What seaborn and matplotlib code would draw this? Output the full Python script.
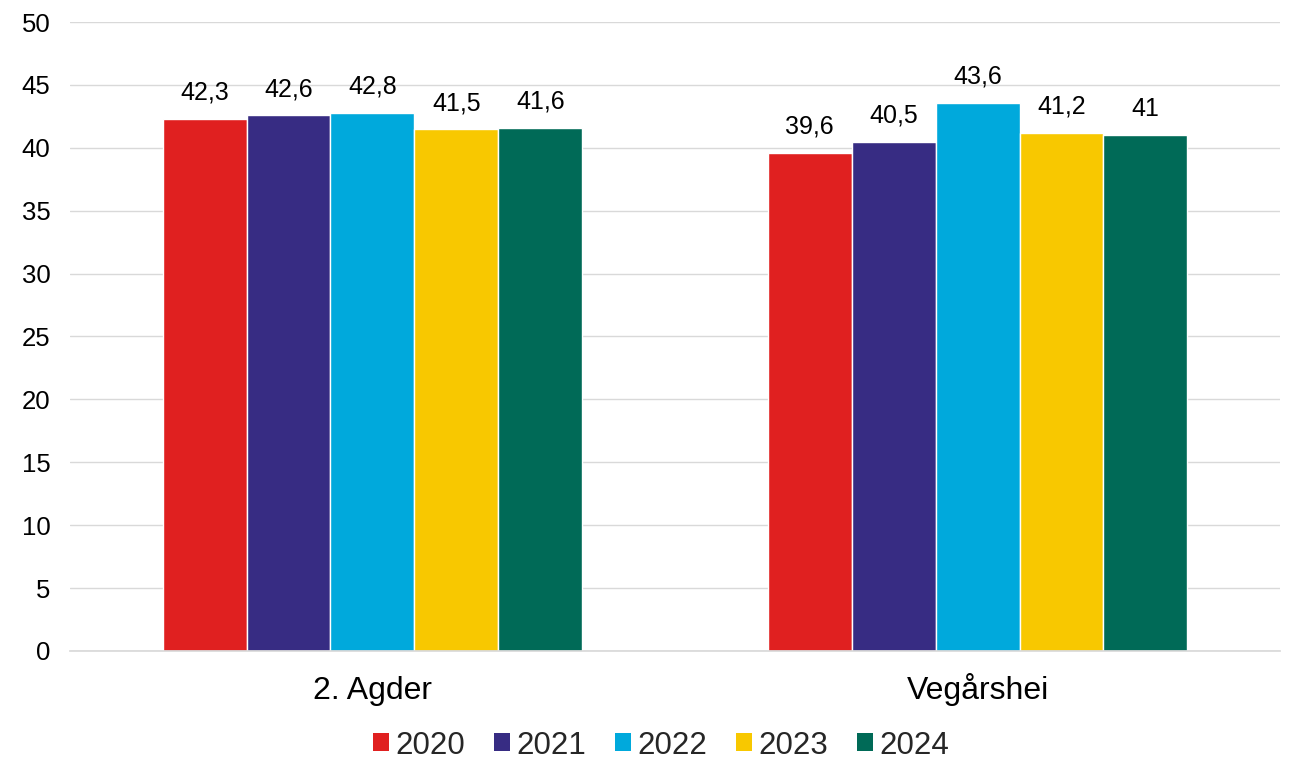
import matplotlib
matplotlib.use("Agg")
import matplotlib.pyplot as plt
import seaborn as sns
import pandas as pd
from matplotlib.patches import Patch

categories = ["2. Agder", "Vegårshei"]
years = ["2020", "2021", "2022", "2023", "2024"]
values = {
    "2020": [42.3, 39.6],
    "2021": [42.6, 40.5],
    "2022": [42.8, 43.6],
    "2023": [41.5, 41.2],
    "2024": [41.6, 41.0],
}
colors = ["#E02020", "#372C83", "#00A9DC", "#F8C800", "#006A57"]
yticks = [0, 5, 10, 15, 20, 25, 30, 35, 40, 45, 50]

rows = []
for y in years:
    for c, v in zip(categories, values[y]):
        rows.append({"Kategori": c, "År": y, "Verdi": v})
df = pd.DataFrame(rows)

sns.set_theme(style="white")
plt.rcParams["font.family"] = ["Liberation Sans", "DejaVu Sans"]

fig = plt.figure(figsize=(12.91, 7.62), dpi=100)
ax = fig.add_axes([0.0542, 0.1457, 0.9373, 0.8254])

sns.barplot(data=df, x="Kategori", y="Verdi", hue="År", hue_order=years,
            palette=colors, saturation=1, width=0.694, gap=0,
            edgecolor="white", linewidth=1, ax=ax, legend=False,
            errorbar=None)

def fmt(v):
    if abs(v - round(v)) < 1e-9:
        return str(int(round(v)))
    return f"{v:.1f}".replace(".", ",")

for cont in ax.containers:
    ax.bar_label(cont, labels=[fmt(b.get_height()) for b in cont],
                 padding=10, fontsize=18, color="#000000")

ax.set_ylim(0, 50)
ax.set_xlim(-0.5, 1.5)
ax.set_yticks(yticks)
ax.set_yticklabels([str(t) for t in yticks], fontsize=18.5, color="#000000")
ax.tick_params(axis="x", labelsize=23, labelcolor="#000000", pad=34.5, length=0)
ax.tick_params(axis="y", length=0, pad=14)
for lab in ax.get_xticklabels():
    lab.set_verticalalignment("baseline")
ax.yaxis.grid(True, color="#D9D9D9", linewidth=1)
ax.set_axisbelow(True)
for s in ["top", "right", "left"]:
    ax.spines[s].set_visible(False)
ax.spines["bottom"].set_color("#D9D9D9")
ax.set_xlabel("")
ax.set_ylabel("")

handles = [Patch(facecolor=c, edgecolor="none") for c in colors]
fig.legend(handles, years, loc="lower center", bbox_to_anchor=(0.512, -0.035),
           ncol=5, frameon=False, fontsize=22.5, handlelength=0.51,
           handleheight=0.51, handletextpad=0.19, columnspacing=0.94)

fig.savefig("out.png", dpi=100)
